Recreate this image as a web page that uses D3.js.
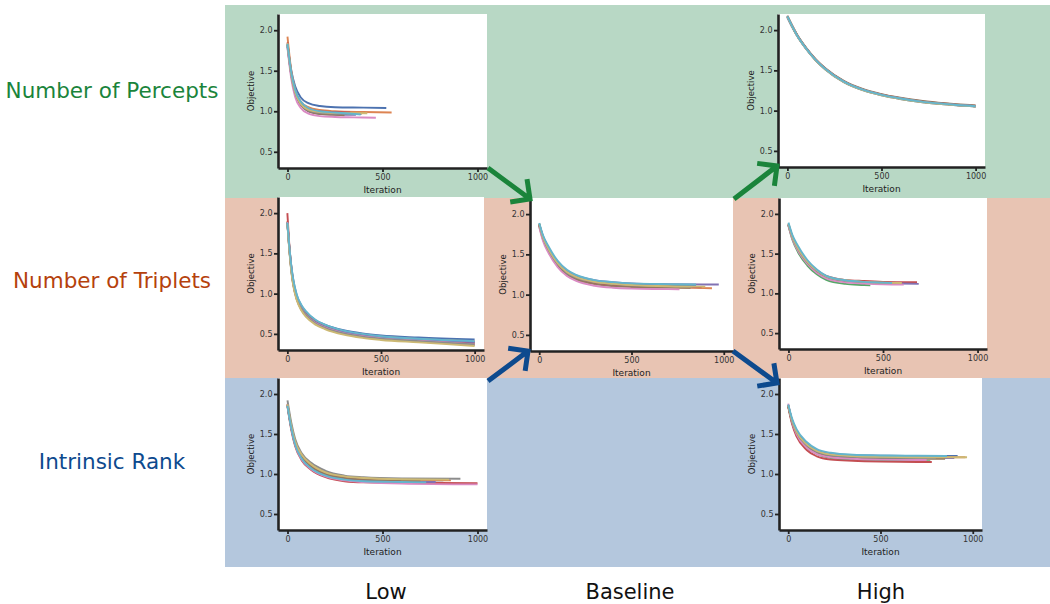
<!DOCTYPE html>
<html>
<head>
<meta charset="utf-8">
<script src="https://cdn.jsdelivr.net/npm/d3@7"></script>
<style>
  body { margin: 0; background: #fff; }
  svg text { font-family: "DejaVu Sans", sans-serif; }
</style>
</head>
<body>
<svg id="fig" width="1050" height="604"></svg>
<script>
// ---- data: objective vs iteration, one curve per seed, [iteration, objective] ----
var rowNames = ["Number of Percepts", "Number of Triplets", "Intrinsic Rank"];
var colNames = ["Low", "Baseline", "High"];
var seedColors = ["#4c72b0", "#dd8452", "#55a868", "#c44e52", "#8172b3",
                  "#937860", "#da8bc3", "#8c8c8c", "#ccb974", "#64b5cd"];
var yTicks = [0.5, 1.0, 1.5, 2.0];
var xTicks = [0, 500, 1000];

var perceptsLow = [
  [[0,1.82],[20,1.5],[40,1.31],[70,1.17],[110,1.1],[170,1.065],[250,1.05],[400,1.045],[520,1.04]],
  [[0,1.92],[20,1.5],[40,1.27],[70,1.12],[110,1.05],[170,1.015],[250,1.0],[400,0.99],[548,0.985]],
  [[0,1.8],[20,1.45],[40,1.24],[70,1.1],[110,1.02],[170,0.99],[250,0.975],[380,0.965]],
  [[0,1.85],[20,1.47],[40,1.25],[70,1.1],[110,1.03],[170,1.0],[250,0.99],[330,0.985]],
  [[0,1.8],[20,1.44],[40,1.22],[70,1.08],[110,1.0],[170,0.97],[250,0.96],[360,0.955]],
  [[0,1.83],[20,1.45],[40,1.23],[70,1.08],[110,1.0],[170,0.965],[250,0.955],[300,0.95]],
  [[0,1.78],[20,1.4],[40,1.18],[70,1.04],[110,0.97],[170,0.94],[250,0.93],[350,0.925],[465,0.92]],
  [[0,1.82],[20,1.45],[40,1.23],[70,1.09],[110,1.01],[170,0.98],[250,0.97],[390,0.965]],
  [[0,1.84],[20,1.46],[40,1.24],[70,1.09],[110,1.02],[170,0.99],[250,0.98],[420,0.975]],
  [[0,1.83],[20,1.48],[40,1.27],[70,1.12],[110,1.04],[170,1.0],[250,0.985],[385,0.96]]
];

var perceptsHighIter = [0,25,50,100,150,200,300,400,500,600,700,800,900,1000];
var perceptsHighVals = [
  [2.16,2.04,1.935,1.765,1.625,1.515,1.355,1.255,1.19,1.145,1.11,1.085,1.065,1.05],
  [2.17,2.05,1.94,1.77,1.63,1.52,1.36,1.26,1.195,1.15,1.115,1.09,1.07,1.055],
  [2.165,2.045,1.94,1.77,1.63,1.52,1.36,1.26,1.195,1.15,1.115,1.09,1.07,1.055],
  [2.17,2.055,1.945,1.775,1.635,1.525,1.365,1.265,1.2,1.155,1.12,1.095,1.075,1.06],
  [2.16,2.045,1.94,1.77,1.63,1.52,1.36,1.26,1.195,1.15,1.115,1.09,1.07,1.055],
  [2.18,2.06,1.95,1.78,1.64,1.53,1.37,1.27,1.205,1.16,1.125,1.1,1.08,1.065],
  [2.165,2.05,1.94,1.77,1.63,1.52,1.36,1.26,1.195,1.15,1.115,1.09,1.07,1.055],
  [2.17,2.05,1.945,1.775,1.63,1.52,1.36,1.26,1.195,1.15,1.115,1.09,1.07,1.055],
  [2.165,2.045,1.935,1.765,1.625,1.515,1.355,1.255,1.19,1.145,1.11,1.085,1.065,1.05],
  [2.17,2.05,1.94,1.77,1.63,1.52,1.36,1.26,1.195,1.15,1.115,1.09,1.07,1.055]
];

var tripletsLowIter = [0,10,20,30,50,75,100,150,200,300,400,500,700,1000];
var tripletsLowVals = [
  [1.88,1.6,1.36,1.19,0.98,0.85,0.77,0.67,0.615,0.545,0.505,0.48,0.455,0.43],
  [1.9,1.6,1.35,1.17,0.96,0.83,0.75,0.65,0.6,0.53,0.49,0.465,0.435,0.41],
  [1.89,1.58,1.33,1.15,0.95,0.82,0.74,0.64,0.59,0.52,0.48,0.455,0.425,0.39],
  [2.0,1.62,1.35,1.16,0.95,0.82,0.74,0.64,0.585,0.515,0.475,0.45,0.42,0.38],
  [1.87,1.57,1.33,1.15,0.95,0.82,0.74,0.645,0.59,0.52,0.48,0.455,0.43,0.40],
  [1.88,1.56,1.31,1.13,0.93,0.8,0.72,0.625,0.57,0.5,0.46,0.435,0.405,0.36],
  [1.89,1.58,1.33,1.15,0.94,0.81,0.73,0.635,0.58,0.51,0.47,0.445,0.415,0.37],
  [1.88,1.57,1.32,1.14,0.94,0.81,0.73,0.63,0.575,0.505,0.465,0.44,0.41,0.37],
  [1.87,1.55,1.3,1.12,0.92,0.79,0.71,0.615,0.56,0.49,0.45,0.425,0.395,0.35],
  [1.88,1.6,1.37,1.2,0.99,0.86,0.78,0.675,0.615,0.54,0.5,0.47,0.44,0.41]
];

var baseline = [
  [[0,1.87],[20,1.72],[50,1.58],[100,1.4],[150,1.29],[200,1.23],[300,1.17],[400,1.145],[500,1.13],[700,1.115],[850,1.11]],
  [[0,1.86],[20,1.7],[50,1.55],[100,1.37],[150,1.26],[200,1.2],[300,1.14],[400,1.115],[500,1.1],[700,1.09],[936,1.08]],
  [[0,1.88],[20,1.71],[50,1.56],[100,1.38],[150,1.27],[200,1.21],[300,1.15],[400,1.125],[500,1.11],[700,1.1],[800,1.1]],
  [[0,1.87],[20,1.7],[50,1.55],[100,1.37],[150,1.265],[200,1.205],[300,1.145],[400,1.12],[500,1.105],[700,1.095],[880,1.09]],
  [[0,1.88],[20,1.73],[50,1.58],[100,1.41],[150,1.3],[200,1.24],[300,1.18],[400,1.155],[500,1.14],[700,1.13],[973,1.125]],
  [[0,1.85],[20,1.69],[50,1.54],[100,1.36],[150,1.25],[200,1.19],[300,1.13],[400,1.105],[500,1.095],[700,1.088],[820,1.085]],
  [[0,1.84],[20,1.67],[50,1.52],[100,1.34],[150,1.23],[200,1.17],[300,1.11],[400,1.085],[500,1.075],[700,1.068],[760,1.065]],
  [[0,1.87],[20,1.71],[50,1.56],[100,1.38],[150,1.27],[200,1.21],[300,1.155],[400,1.13],[500,1.115],[700,1.105],[830,1.1]],
  [[0,1.88],[20,1.72],[50,1.57],[100,1.39],[150,1.28],[200,1.22],[300,1.16],[400,1.135],[500,1.12],[700,1.105],[900,1.1]],
  [[0,1.89],[20,1.74],[50,1.6],[100,1.42],[150,1.31],[200,1.245],[300,1.18],[400,1.155],[500,1.14],[700,1.13],[850,1.125]]
];

var tripletsHigh = [
  [[0,1.87],[20,1.72],[50,1.57],[100,1.4],[150,1.28],[200,1.21],[300,1.16],[400,1.145],[500,1.135],[620,1.13]],
  [[0,1.86],[20,1.71],[50,1.56],[100,1.39],[150,1.27],[200,1.2],[300,1.15],[400,1.135],[500,1.13],[580,1.125]],
  [[0,1.85],[20,1.68],[50,1.52],[100,1.35],[150,1.24],[200,1.17],[300,1.12],[400,1.105],[433,1.1]],
  [[0,1.87],[20,1.72],[50,1.57],[100,1.4],[150,1.29],[200,1.22],[300,1.17],[400,1.155],[500,1.145],[680,1.14]],
  [[0,1.86],[20,1.71],[50,1.56],[100,1.39],[150,1.28],[200,1.21],[300,1.16],[400,1.14],[500,1.13],[689,1.12]],
  [[0,1.86],[20,1.7],[50,1.55],[100,1.38],[150,1.27],[200,1.2],[300,1.15],[400,1.135],[500,1.125],[560,1.12]],
  [[0,1.85],[20,1.69],[50,1.54],[100,1.37],[150,1.26],[200,1.19],[300,1.14],[400,1.125],[500,1.115],[610,1.11]],
  [[0,1.87],[20,1.71],[50,1.56],[100,1.39],[150,1.28],[200,1.21],[300,1.16],[400,1.145],[500,1.135],[540,1.13]],
  [[0,1.88],[20,1.72],[50,1.57],[100,1.4],[150,1.29],[200,1.215],[300,1.165],[400,1.145],[500,1.135],[600,1.13]],
  [[0,1.89],[20,1.74],[50,1.6],[100,1.42],[150,1.3],[200,1.22],[300,1.165],[400,1.145],[500,1.135],[548,1.13]]
];

var rankLow = [
  [[0,1.86],[20,1.58],[40,1.38],[75,1.2],[125,1.08],[200,0.99],[300,0.94],[400,0.92],[600,0.9],[820,0.89]],
  [[0,1.87],[20,1.6],[40,1.41],[75,1.23],[125,1.11],[200,1.02],[300,0.96],[400,0.94],[600,0.925],[860,0.92]],
  [[0,1.85],[20,1.57],[40,1.37],[75,1.19],[125,1.07],[200,0.98],[300,0.93],[400,0.915],[600,0.9],[750,0.9]],
  [[0,1.84],[20,1.55],[40,1.35],[75,1.17],[125,1.05],[200,0.96],[300,0.91],[400,0.895],[600,0.89],[1000,0.885]],
  [[0,1.86],[20,1.58],[40,1.38],[75,1.2],[125,1.08],[200,0.99],[300,0.94],[400,0.92],[600,0.905],[780,0.9]],
  [[0,1.87],[20,1.59],[40,1.39],[75,1.21],[125,1.09],[200,1.0],[300,0.95],[400,0.93],[600,0.915],[700,0.91]],
  [[0,1.88],[20,1.58],[40,1.37],[75,1.18],[125,1.06],[200,0.97],[300,0.92],[400,0.9],[600,0.88],[1000,0.87]],
  [[0,1.92],[20,1.64],[40,1.44],[75,1.26],[125,1.14],[200,1.04],[300,0.98],[400,0.96],[600,0.945],[910,0.94]],
  [[0,1.87],[20,1.6],[40,1.41],[75,1.24],[125,1.12],[200,1.02],[300,0.97],[400,0.95],[600,0.935],[850,0.93]],
  [[0,1.85],[20,1.57],[40,1.37],[75,1.19],[125,1.07],[200,0.98],[300,0.93],[400,0.91],[600,0.9],[730,0.895]]
];

var rankHigh = [
  [[0,1.86],[20,1.68],[45,1.54],[100,1.38],[155,1.3],[230,1.255],[350,1.235],[500,1.23],[700,1.225],[918,1.225]],
  [[0,1.85],[20,1.67],[45,1.52],[100,1.36],[155,1.28],[230,1.235],[350,1.215],[500,1.21],[700,1.21],[960,1.21]],
  [[0,1.85],[20,1.65],[45,1.5],[100,1.33],[155,1.25],[230,1.2],[350,1.175],[500,1.165],[700,1.16],[770,1.16]],
  [[0,1.84],[20,1.63],[45,1.47],[100,1.3],[155,1.22],[230,1.18],[350,1.165],[500,1.155],[700,1.15],[778,1.15]],
  [[0,1.86],[20,1.67],[45,1.52],[100,1.36],[155,1.28],[230,1.23],[350,1.21],[500,1.2],[700,1.2],[900,1.2]],
  [[0,1.85],[20,1.66],[45,1.51],[100,1.35],[155,1.27],[230,1.22],[350,1.2],[500,1.19],[700,1.19],[850,1.19]],
  [[0,1.88],[20,1.66],[45,1.5],[100,1.33],[155,1.25],[230,1.21],[350,1.19],[500,1.18],[700,1.175],[750,1.175]],
  [[0,1.86],[20,1.67],[45,1.52],[100,1.36],[155,1.28],[230,1.235],[350,1.215],[500,1.205],[700,1.2],[800,1.2]],
  [[0,1.86],[20,1.68],[45,1.53],[100,1.37],[155,1.29],[230,1.245],[350,1.225],[500,1.215],[700,1.21],[969,1.21]],
  [[0,1.87],[20,1.7],[45,1.56],[100,1.4],[155,1.31],[230,1.265],[350,1.24],[500,1.232],[700,1.228],[860,1.225]]
];

// ---- layout ----
var svg = d3.select("#fig");

var bands = [
  {y: 5,   h: 193, fill: "#b8d8c5"},
  {y: 198, h: 180, fill: "#e8c4b3"},
  {y: 378, h: 189, fill: "#b4c7dd"}
];
svg.selectAll("rect.band")
  .data(bands)
  .enter()
  .append("rect")
  .attr("class", "band")
  .attr("x", 225).attr("width", 825)
  .attr("y", function(d) { return d.y; })
  .attr("height", function(d) { return d.h; })
  .attr("fill", function(d) { return d.fill; });

var panels = [
  {x: 278, y: 14,  w: 209, h: 154, curves: perceptsLow},
  {x: 778, y: 14,  w: 207, h: 153, curves: perceptsHighVals.map(function(v) { return d3.zip(perceptsHighIter, v); })},
  {x: 278, y: 197, w: 206, h: 153, curves: tripletsLowVals.map(function(v) { return d3.zip(tripletsLowIter, v); })},
  {x: 530, y: 198, w: 203, h: 153, curves: baseline},
  {x: 779, y: 198, w: 208, h: 151, curves: tripletsHigh},
  {x: 278, y: 378, w: 209, h: 152, curves: rankLow},
  {x: 779, y: 378, w: 203, h: 152, curves: rankHigh}
];

panels.forEach(function(p) {
  var g = svg.append("g").attr("transform", "translate(" + p.x + "," + p.y + ")");

  var x = d3.scaleLinear().domain([-50, 1050]).range([0, p.w]);
  var y = d3.scaleLinear().domain([0.3, 2.2]).range([p.h, 0]);

  g.append("rect").attr("width", p.w).attr("height", p.h).attr("fill", "#fff");

  var line = d3.line()
    .x(function(d) { return x(d[0]); })
    .y(function(d) { return y(d[1]); })
    .curve(d3.curveMonotoneX);

  g.selectAll("path.seed")
    .data(p.curves)
    .enter()
    .append("path")
    .attr("class", "seed")
    .attr("d", line)
    .attr("fill", "none")
    .attr("stroke", function(d, i) { return seedColors[i % seedColors.length]; })
    .attr("stroke-width", 1.9);

  var yAxis = g.append("g")
    .call(d3.axisLeft(y).tickValues(yTicks).tickFormat(d3.format(".1f"))
      .tickSize(4).tickSizeOuter(0).tickPadding(1.5));
  var xAxis = g.append("g")
    .attr("transform", "translate(0," + p.h + ")")
    .call(d3.axisBottom(x).tickValues(xTicks).tickFormat(d3.format("d"))
      .tickSize(4).tickSizeOuter(0).tickPadding(2.5));

  [yAxis, xAxis].forEach(function(a) {
    a.select(".domain").attr("stroke", "#222").attr("stroke-width", 2.6);
    a.selectAll(".tick line").attr("stroke", "#222").attr("stroke-width", 1.8);
    a.selectAll(".tick text").attr("fill", "#333").style("font-size", "8px")
      .style("font-family", "DejaVu Sans, sans-serif");
  });

  g.append("text")
    .attr("transform", "translate(-24," + (p.h / 2) + ") rotate(-90)")
    .attr("text-anchor", "middle")
    .attr("fill", "#222")
    .style("font-size", "8.5px")
    .text("Objective");

  g.append("text")
    .attr("x", x(500)).attr("y", p.h + 24.5)
    .attr("text-anchor", "middle")
    .attr("fill", "#222")
    .style("font-size", "9px")
    .text("Iteration");
});

// arrows pointing from the low/high panels toward the baseline
var arrows = [
  {from: [488, 168], to: [530, 199], color: "#1a843b"},
  {from: [734, 199], to: [777, 166], color: "#1a843b"},
  {from: [488, 381], to: [528, 351], color: "#0d4a8e"},
  {from: [733, 351], to: [777, 383], color: "#0d4a8e"}
];
arrows.forEach(function(a) {
  var ang = Math.atan2(a.to[1] - a.from[1], a.to[0] - a.from[0]);
  var len = 20, spread = Math.PI / 4;
  var l = [a.to[0] - len * Math.cos(ang - spread), a.to[1] - len * Math.sin(ang - spread)];
  var r = [a.to[0] - len * Math.cos(ang + spread), a.to[1] - len * Math.sin(ang + spread)];
  var path = d3.path();
  path.moveTo(a.from[0], a.from[1]);
  path.lineTo(a.to[0], a.to[1]);
  path.moveTo(l[0], l[1]);
  path.lineTo(a.to[0], a.to[1]);
  path.lineTo(r[0], r[1]);
  svg.append("path")
    .attr("d", path.toString())
    .attr("fill", "none")
    .attr("stroke", a.color)
    .attr("stroke-width", 5)
    .attr("stroke-linejoin", "miter");
});

// row and column labels
var rowColors = ["#1a843b", "#b5410c", "#0d4a8e"];
var rowY = [98, 288, 469];
svg.selectAll("text.row")
  .data(rowNames)
  .enter()
  .append("text")
  .attr("class", "row")
  .attr("x", 112)
  .attr("y", function(d, i) { return rowY[i]; })
  .attr("text-anchor", "middle")
  .attr("fill", function(d, i) { return rowColors[i]; })
  .style("font-size", "21.5px")
  .text(function(d) { return d; });

var colX = [386, 630, 881];
svg.selectAll("text.col")
  .data(colNames)
  .enter()
  .append("text")
  .attr("class", "col")
  .attr("x", function(d, i) { return colX[i]; })
  .attr("y", 599)
  .attr("text-anchor", "middle")
  .attr("fill", "#111")
  .style("font-size", "21px")
  .text(function(d) { return d; });
</script>
</body>
</html>
